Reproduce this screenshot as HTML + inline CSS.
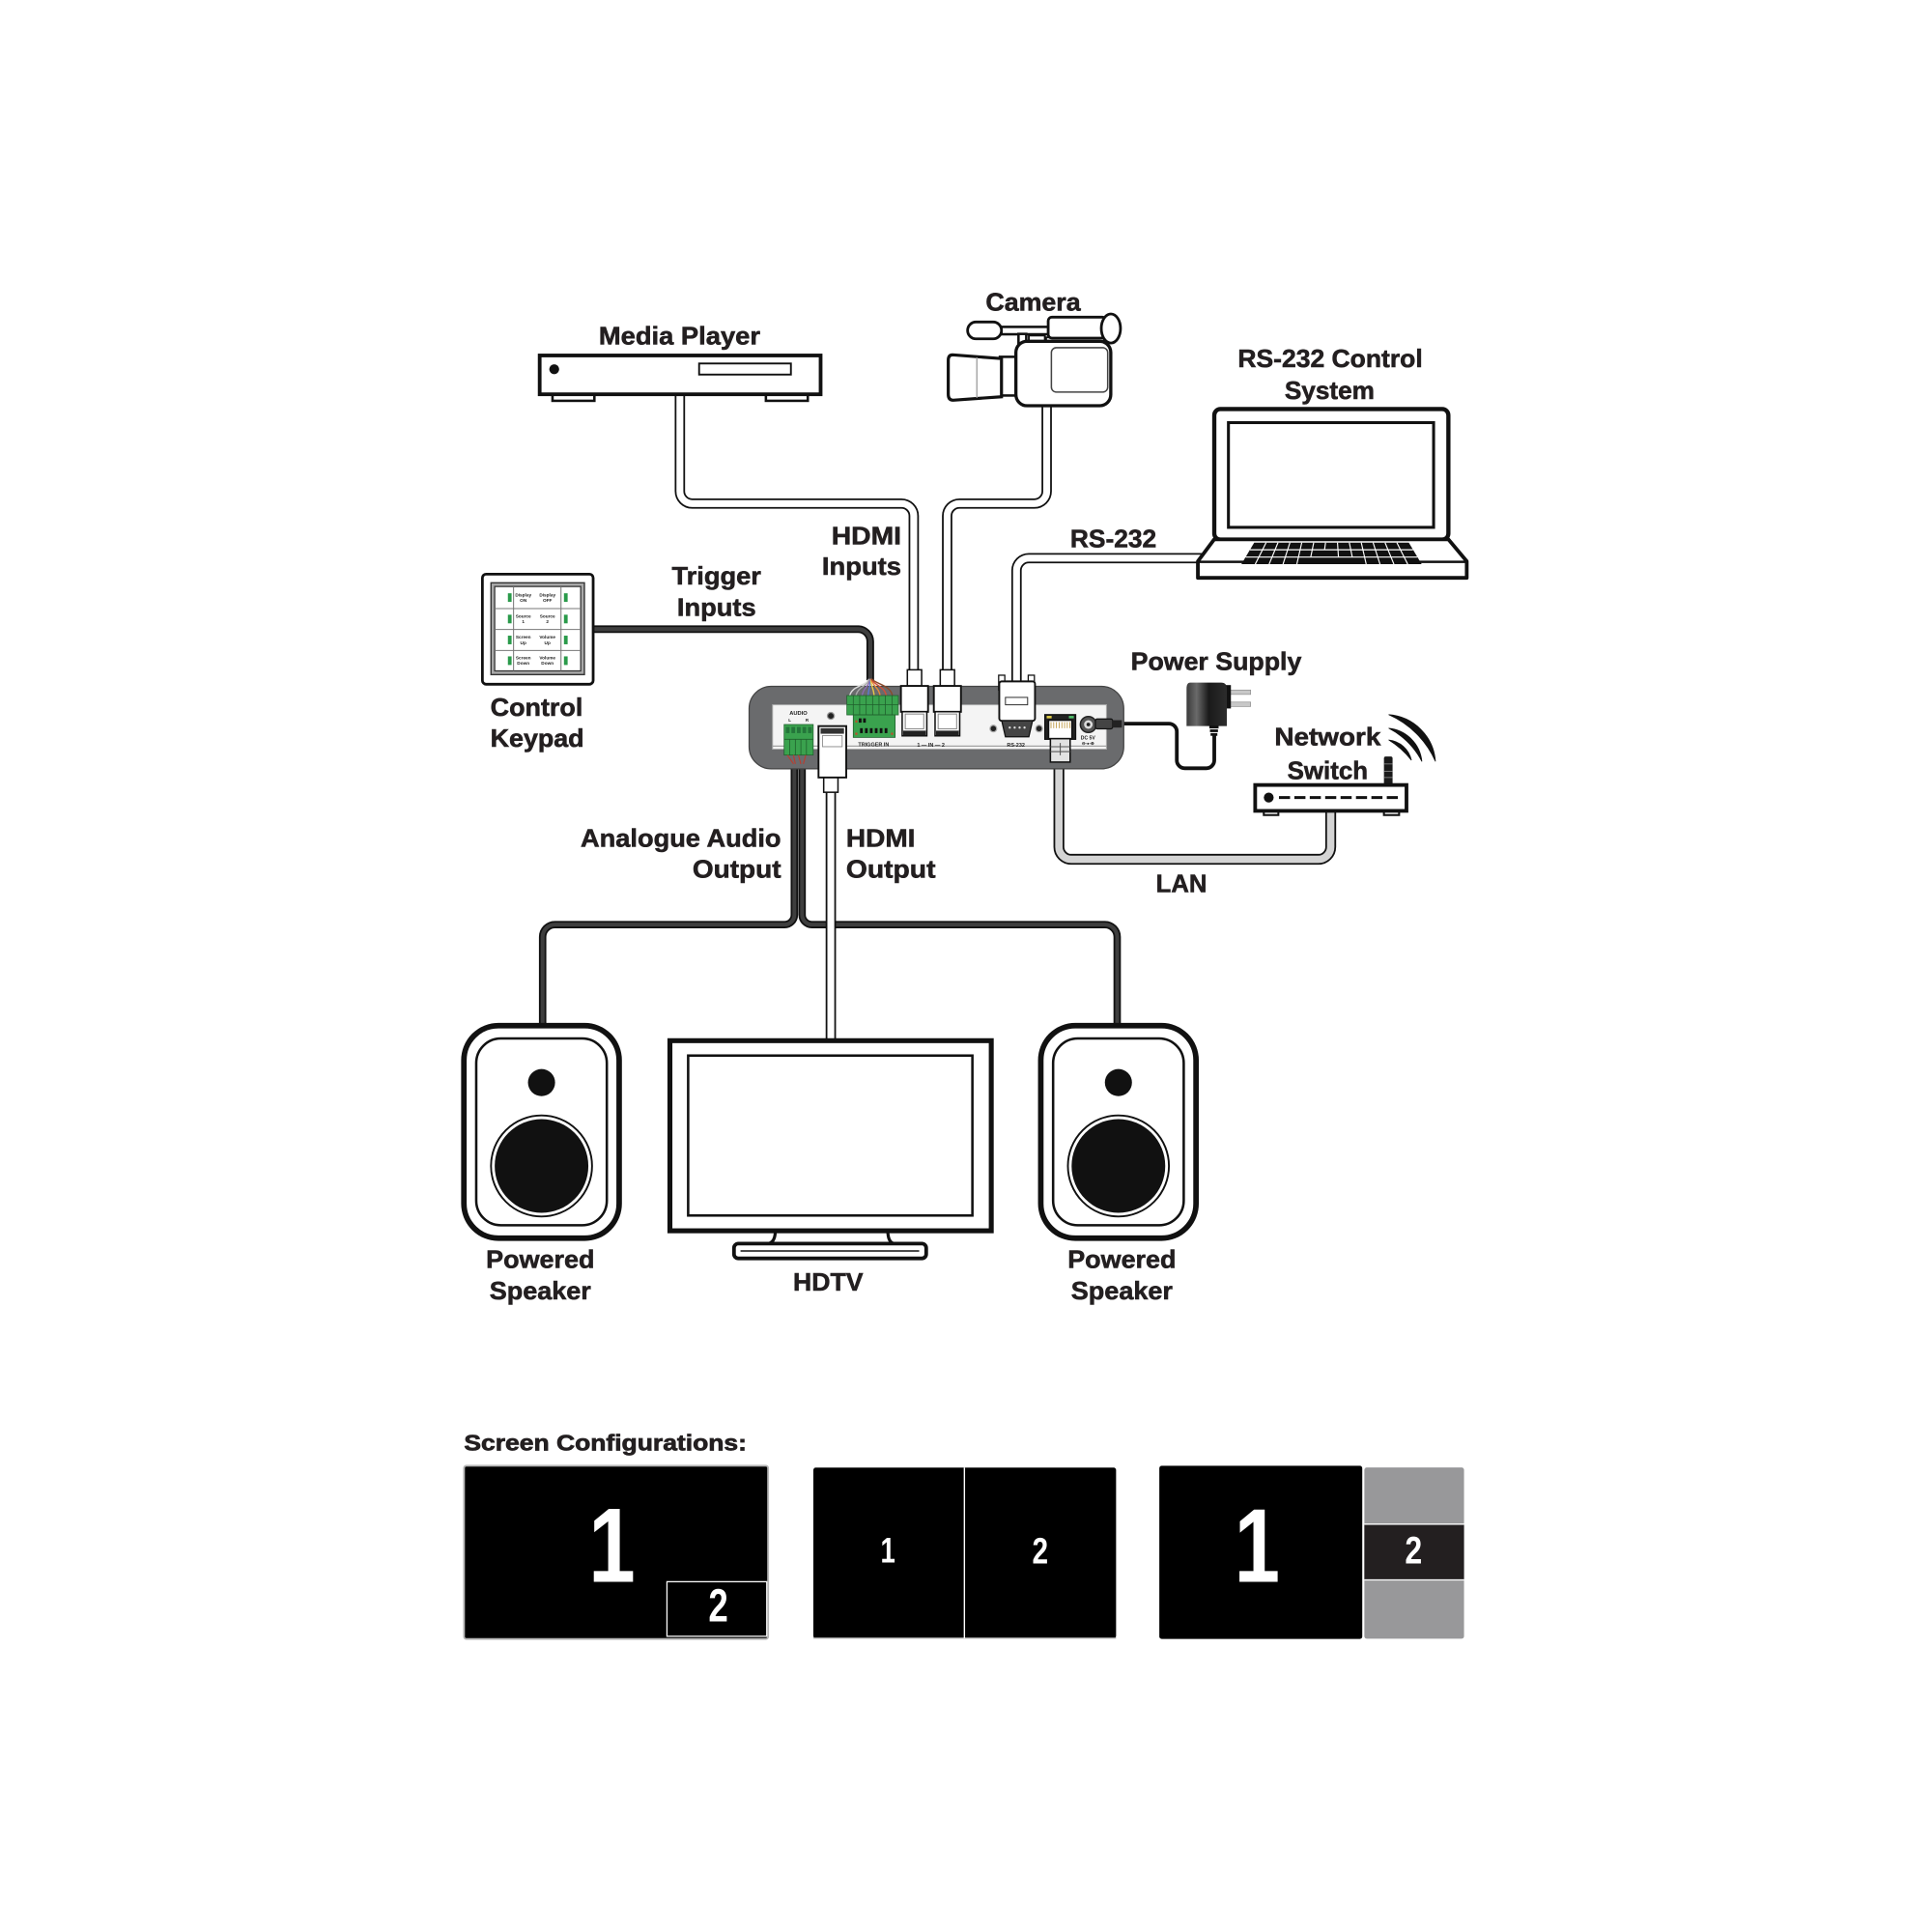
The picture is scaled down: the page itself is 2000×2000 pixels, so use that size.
<!DOCTYPE html>
<html>
<head>
<meta charset="utf-8">
<style>
  html,body{margin:0;padding:0;background:#fff;}
  svg{display:block;}
  .lbl{font-family:"Liberation Sans",Arial,sans-serif;font-weight:bold;font-size:20.5px;fill:#231f20;stroke:#231f20;stroke-width:0.45px;}
  .tiny{font-family:"Liberation Sans",Arial,sans-serif;font-weight:bold;fill:#222;}
  .dig{font-family:"Liberation Sans",Arial,sans-serif;font-weight:bold;fill:#fff;}
</style>
</head>
<body>
<svg width="2000" height="2000" viewBox="0 0 1568 1568" xmlns="http://www.w3.org/2000/svg">
  <rect x="0" y="0" width="1568" height="1568" fill="#fff"/>

  <!-- ============ CABLES ============ -->
  <g fill="none" stroke-linejoin="round">
    <path d="M551.8,320 V398.7 A10,10 0 0 0 561.8,408.7 H731.6 A10,10 0 0 1 741.6,418.7 V546" stroke="#111" stroke-width="8.4"/>
    <path d="M551.8,320 V398.7 A10,10 0 0 0 561.8,408.7 H731.6 A10,10 0 0 1 741.6,418.7 V546" stroke="#fff" stroke-width="5.6"/>
    <path d="M849.5,328 V398.7 A10,10 0 0 1 839.5,408.7 H778.7 A10,10 0 0 0 768.7,418.7 V546" stroke="#111" stroke-width="8.4"/>
    <path d="M849.5,328 V398.7 A10,10 0 0 1 839.5,408.7 H778.7 A10,10 0 0 0 768.7,418.7 V546" stroke="#fff" stroke-width="5.6"/>
    <path d="M978,453 H835 A10,10 0 0 0 825,463 V554" stroke="#111" stroke-width="8.4"/>
    <path d="M978,453 H835 A10,10 0 0 0 825,463 V554" stroke="#fff" stroke-width="5.6"/>
    <path d="M480,510.6 H696.3 A10,10 0 0 1 706.3,520.6 V552" stroke="#111" stroke-width="6.2"/>
    <path d="M480,510.6 H696.3 A10,10 0 0 1 706.3,520.6 V552" stroke="#3e3e3e" stroke-width="3.4"/>
    <path d="M644.7,612 V742.4 A8,8 0 0 1 636.7,750.4 H450.4 A10,10 0 0 0 440.4,760.4 V834" stroke="#111" stroke-width="6"/>
    <path d="M644.7,612 V742.4 A8,8 0 0 1 636.7,750.4 H450.4 A10,10 0 0 0 440.4,760.4 V834" stroke="#3e3e3e" stroke-width="3.2"/>
    <path d="M651,612 V742.4 A8,8 0 0 0 659,750.4 H896.7 A10,10 0 0 1 906.7,760.4 V834" stroke="#111" stroke-width="6"/>
    <path d="M651,612 V742.4 A8,8 0 0 0 659,750.4 H896.7 A10,10 0 0 1 906.7,760.4 V834" stroke="#3e3e3e" stroke-width="3.2"/>
    <path d="M674.3,640 V846" stroke="#111" stroke-width="8.4"/>
    <path d="M674.3,640 V846" stroke="#fff" stroke-width="5.6"/>
    <path d="M859.4,616 V687.4 A10,10 0 0 0 869.4,697.4 H1070 A10,10 0 0 0 1080,687.4 V657" stroke="#111" stroke-width="8.8"/>
    <path d="M859.4,616 V687.4 A10,10 0 0 0 869.4,697.4 H1070 A10,10 0 0 0 1080,687.4 V657" stroke="#d4d4d4" stroke-width="6"/>
    <path d="M905,587.3 H948.6 A6.5,6.5 0 0 1 955.1,593.8 V617 A6.5,6.5 0 0 0 961.6,623.5 H979 A6.5,6.5 0 0 0 985.5,617 V596" stroke="#111" stroke-width="3"/>
  </g>

  <!-- ============ MEDIA PLAYER ============ -->
  <rect x="448.4" y="318" width="34" height="7.3" fill="#fff" stroke="#111" stroke-width="2"/>
  <rect x="621.6" y="318" width="34" height="7.3" fill="#fff" stroke="#111" stroke-width="2"/>
  <rect x="438" y="288.5" width="228" height="31.5" fill="#fff" stroke="#111" stroke-width="3"/>
  <circle cx="449.8" cy="299.7" r="4" fill="#111"/>
  <rect x="567.4" y="295" width="74.5" height="9" fill="none" stroke="#111" stroke-width="1.5"/>

  <!-- ============ CAMERA ============ -->
  <g stroke="#111" fill="#fff">
    <rect x="812.8" y="265.3" width="38" height="6" stroke-width="2"/>
    <rect x="826.6" y="271" width="6.3" height="8" stroke-width="2"/>
    <rect x="835" y="272.3" width="13" height="5" stroke-width="1.5"/>
    <rect x="785.3" y="261.3" width="27.5" height="13.7" rx="6.8" stroke-width="2.2"/>
    <rect x="849" y="273.8" width="47" height="3.6" stroke-width="1.5"/>
    <rect x="850.7" y="257.4" width="47" height="17" rx="3" stroke-width="2.2"/>
    <ellipse cx="901.6" cy="266.6" rx="7.8" ry="11.8" stroke-width="2.2"/>
    <rect x="811.5" y="289.6" width="15" height="31.4" stroke-width="2"/>
    <path d="M773,288 L812.8,291 L812.8,322 L773.5,324.8 Q769.6,324.8 769.6,320 L769.6,292.5 Q769.6,288 773,288 Z" stroke-width="2.5"/>
    <rect x="824.5" y="277" width="77" height="52.3" rx="9" stroke-width="2.6"/>
    <rect x="853.3" y="282.2" width="45.7" height="36" rx="4" stroke="#444" stroke-width="1.2"/>
  </g>
  <line x1="792.8" y1="290" x2="792.8" y2="323" stroke="#999" stroke-width="1"/>

  <!-- ============ LAPTOP ============ -->
  <rect x="985.5" y="332" width="190" height="106" rx="5" fill="#fff" stroke="#111" stroke-width="3.4"/>
  <rect x="997" y="343" width="166.5" height="85" fill="#fff" stroke="#111" stroke-width="2.4"/>
  <path d="M985.5,437.7 L1175.5,437.7 L1190.4,455.5 L1190.4,469 L972.2,469 L972.2,455.5 Z" fill="#fff" stroke="#111" stroke-width="3" stroke-linejoin="round"/>
  <line x1="972.2" y1="456" x2="1190.4" y2="456" stroke="#111" stroke-width="2"/>
  <polygon points="1017.9,440.4 1143.4,440.4 1153.8,457.9 1007.5,457.9" fill="#111"/>
  <g stroke="#fff" stroke-width="0.9">
    <line x1="1027.55" y1="440.4" x2="1018.75" y2="457.9"/>
    <line x1="1037.2" y1="440.4" x2="1030.0" y2="457.9"/>
    <line x1="1046.9" y1="440.4" x2="1041.3" y2="457.9"/>
    <line x1="1056.5" y1="440.4" x2="1052.5" y2="457.9"/>
    <line x1="1066.2" y1="440.4" x2="1063.8" y2="452.1"/>
    <line x1="1075.8" y1="440.4" x2="1075.0" y2="446.2"/>
    <line x1="1085.5" y1="440.4" x2="1086.3" y2="452.1"/>
    <line x1="1095.1" y1="440.4" x2="1097.5" y2="452.1"/>
    <line x1="1104.8" y1="440.4" x2="1108.8" y2="457.9"/>
    <line x1="1114.4" y1="440.4" x2="1120.0" y2="457.9"/>
    <line x1="1124.1" y1="440.4" x2="1131.3" y2="457.9"/>
    <line x1="1133.7" y1="440.4" x2="1142.5" y2="457.9"/>
    <line x1="1014.5" y1="446.2" x2="1146.8" y2="446.2"/>
    <line x1="1010.9" y1="452.1" x2="1150.4" y2="452.1"/>
  </g>

  <!-- ============ CONTROL KEYPAD ============ -->
  <rect x="391.5" y="466" width="89.9" height="89.3" rx="3" fill="#fff" stroke="#111" stroke-width="2.2"/>
  <rect x="398.5" y="473" width="75.8" height="74.5" fill="#a9a9a9" stroke="#333" stroke-width="1.1"/>
  <rect x="401.5" y="476" width="69.8" height="68.5" fill="#fff" stroke="#333" stroke-width="1"/>
  <g stroke="#777" stroke-width="0.8">
    <line x1="416.8" y1="476" x2="416.8" y2="544.5"/>
    <line x1="455.3" y1="476" x2="455.3" y2="544.5"/>
    <line x1="401.5" y1="493.9" x2="471.3" y2="493.9"/>
    <line x1="401.5" y1="510.9" x2="471.3" y2="510.9"/>
    <line x1="401.5" y1="527.9" x2="471.3" y2="527.9"/>
  </g>
  <g fill="#2a9a4a">
    <rect x="412.2" y="481.5" width="3" height="7"/><rect x="457.7" y="481.5" width="3" height="7"/>
    <rect x="412.2" y="498.9" width="3" height="7"/><rect x="457.7" y="498.9" width="3" height="7"/>
    <rect x="412.2" y="515.9" width="3" height="7"/><rect x="457.7" y="515.9" width="3" height="7"/>
    <rect x="412.2" y="532.7" width="3" height="7"/><rect x="457.7" y="532.7" width="3" height="7"/>
  </g>
  <g class="tiny" font-size="3.7" text-anchor="middle">
    <text x="424.7" y="484">Display</text><text x="424.7" y="488.5">ON</text>
    <text x="444.3" y="484">Display</text><text x="444.3" y="488.5">OFF</text>
    <text x="424.7" y="501.3">Source</text><text x="424.7" y="505.8">1</text>
    <text x="444.3" y="501.3">Source</text><text x="444.3" y="505.8">2</text>
    <text x="424.7" y="518.3">Screen</text><text x="424.7" y="522.8">Up</text>
    <text x="444.3" y="518.3">Volume</text><text x="444.3" y="522.8">Up</text>
    <text x="424.7" y="535.1">Screen</text><text x="424.7" y="539.6">Down</text>
    <text x="444.3" y="535.1">Volume</text><text x="444.3" y="539.6">Down</text>
  </g>

  <!-- ============ CENTRAL DEVICE ============ -->
  <rect x="608" y="557" width="304" height="67" rx="18" fill="#6a6b6d" stroke="#444" stroke-width="1"/>
  <rect x="627" y="572" width="271" height="36" fill="#f4f4f4" stroke="#aaa" stroke-width="0.8"/>
  <line x1="627" y1="605.5" x2="898" y2="605.5" stroke="#999" stroke-width="0.8"/>

  <text class="tiny" x="648" y="580" font-size="4.5" text-anchor="middle">AUDIO</text>
  <text class="tiny" x="641" y="585.5" font-size="3.5" text-anchor="middle">L</text>
  <text class="tiny" x="655" y="585.5" font-size="3.5" text-anchor="middle">R</text>
  <rect x="636.4" y="588" width="23.6" height="24.8" fill="#3aa24e" stroke="#1f5f2c" stroke-width="0.6"/>
  <g fill="#24753a">
    <rect x="637.8" y="590" width="3" height="5"/><rect x="642.3" y="590" width="3" height="5"/>
    <rect x="646.8" y="590" width="3" height="5"/><rect x="651.3" y="590" width="3" height="5"/>
    <rect x="655.8" y="590" width="3" height="5"/>
  </g>
  <g stroke="#1f5f2c" stroke-width="0.6">
    <line x1="636.4" y1="600" x2="660" y2="600"/>
    <line x1="641" y1="600" x2="641" y2="612.8"/><line x1="645.5" y1="600" x2="645.5" y2="612.8"/>
    <line x1="650" y1="600" x2="650" y2="612.8"/><line x1="654.5" y1="600" x2="654.5" y2="612.8"/>
  </g>
  <g stroke="#c0392b" stroke-width="0.8" fill="none">
    <path d="M639,612.8 L644,620"/><path d="M644,612.8 L645.5,620"/>
    <path d="M648,612.8 L650,620"/><path d="M654,612.8 L652,620"/>
  </g>
  <circle cx="674.3" cy="581" r="2.8" fill="#222" stroke="#999" stroke-width="1"/>

  <rect x="668.5" y="630" width="11.6" height="13" fill="#fff" stroke="#111" stroke-width="1.2"/>
  <rect x="664.3" y="589.3" width="22.5" height="41.7" fill="#fff" stroke="#111" stroke-width="1.5"/>
  <rect x="666" y="591" width="19" height="4.5" fill="#333"/>
  <rect x="667.5" y="597" width="16" height="9" fill="none" stroke="#888" stroke-width="0.7"/>

  <g fill="none" stroke-width="1.1">
    <path d="M705,551 C704,557 690,556 689.5,566" stroke="#ddd"/>
    <path d="M705.5,551 C705,557 695,557 694.5,566" stroke="#aaa"/>
    <path d="M706,551 C706,557 700,558 699.5,566" stroke="#8c6bb1"/>
    <path d="M706.5,551 C706.5,558 704.5,559 704.5,566" stroke="#5a7bd0"/>
    <path d="M706.5,551 C707,558 709.5,559 709.5,566" stroke="#e6c84a"/>
    <path d="M707,551 C708,557 714,558 714.5,566" stroke="#e58a3a"/>
    <path d="M707,551 C709,556 719,557 719.5,566" stroke="#d0503a"/>
    <path d="M707.5,551 C710,555 724,556 724.5,566" stroke="#8a4a2a"/>
  </g>
  <rect x="687.3" y="564.5" width="41.8" height="15.7" fill="#3aa24e" stroke="#1f5f2c" stroke-width="0.6"/>
  <g stroke="#1f5f2c" stroke-width="0.6">
    <line x1="692.5" y1="564.5" x2="692.5" y2="580.2"/><line x1="697.7" y1="564.5" x2="697.7" y2="580.2"/>
    <line x1="703" y1="564.5" x2="703" y2="580.2"/><line x1="708.2" y1="564.5" x2="708.2" y2="580.2"/>
    <line x1="713.4" y1="564.5" x2="713.4" y2="580.2"/><line x1="718.6" y1="564.5" x2="718.6" y2="580.2"/>
    <line x1="723.9" y1="564.5" x2="723.9" y2="580.2"/>
    <line x1="687.3" y1="572" x2="729.1" y2="572"/>
  </g>
  <rect x="692.5" y="580.2" width="34" height="18.3" fill="#3aa24e" stroke="#1f5f2c" stroke-width="0.6"/>
  <g fill="#111">
    <rect x="697" y="583" width="2.2" height="3.5"/><rect x="700.5" y="583" width="2.2" height="3.5"/>
    <rect x="698" y="591" width="2.2" height="4"/><rect x="702" y="591" width="2.2" height="4"/>
    <rect x="706" y="591" width="2.2" height="4"/><rect x="710" y="591" width="2.2" height="4"/>
    <rect x="714" y="591" width="2.2" height="4"/><rect x="718" y="591" width="2.2" height="4"/>
  </g>
  <g fill="#b5542f">
    <circle cx="695" cy="585.5" r="1"/><circle cx="695" cy="595.5" r="1"/><circle cx="724" cy="595.5" r="1"/>
  </g>
  <text class="tiny" x="709" y="605.5" font-size="4.3" text-anchor="middle">TRIGGER IN</text>

  <g stroke="#111" fill="#fff">
    <rect x="736.4" y="543.6" width="11.6" height="13.1" stroke-width="1.2"/>
    <rect x="731.2" y="556.7" width="22" height="21" stroke-width="1.5"/>
    <rect x="732.2" y="577.6" width="20" height="19.6" stroke-width="1.2"/>
    <rect x="763.1" y="543.6" width="11.6" height="13.1" stroke-width="1.2"/>
    <rect x="757.9" y="556.7" width="22" height="21" stroke-width="1.5"/>
    <rect x="758.9" y="577.6" width="20" height="19.6" stroke-width="1.2"/>
  </g>
  <g fill="none" stroke="#888" stroke-width="0.8">
    <rect x="734.7" y="579.5" width="15" height="12"/>
    <rect x="761.4" y="579.5" width="15" height="12"/>
  </g>
  <rect x="733" y="593" width="18.4" height="4" fill="#222"/>
  <rect x="759.7" y="593" width="18.4" height="4" fill="#222"/>
  <text class="tiny" x="755.5" y="606" font-size="4.3" text-anchor="middle">1 — IN — 2</text>

  <rect x="810.5" y="548" width="5" height="12" fill="#fff" stroke="#111" stroke-width="1"/>
  <rect x="834.5" y="548" width="5" height="12" fill="#fff" stroke="#111" stroke-width="1"/>
  <rect x="811" y="553" width="29" height="32" rx="2" fill="#fff" stroke="#111" stroke-width="1.5"/>
  <rect x="816" y="566" width="18" height="6" fill="none" stroke="#333" stroke-width="0.8"/>
  <path d="M813,585 H838 L835,598 H816 Z" fill="#444" stroke="#111" stroke-width="1"/>
  <g fill="#ddd"><circle cx="819.5" cy="590.5" r="0.9"/><circle cx="823.5" cy="590.5" r="0.9"/><circle cx="827.5" cy="590.5" r="0.9"/><circle cx="831.5" cy="590.5" r="0.9"/></g>
  <circle cx="806.2" cy="591.3" r="2.7" fill="#222" stroke="#aaa" stroke-width="1"/>
  <circle cx="843.3" cy="591.3" r="2.7" fill="#222" stroke="#aaa" stroke-width="1"/>
  <text class="tiny" x="824.5" y="606" font-size="4.3" text-anchor="middle">RS-232</text>

  <rect x="848" y="580" width="25" height="20" fill="#222" stroke="#111" stroke-width="1"/>
  <rect x="849.5" y="581" width="4" height="2" fill="#e3d04a"/>
  <rect x="867.5" y="581" width="4" height="2" fill="#4fc06a"/>
  <rect x="851" y="584.5" width="19" height="15" fill="#fff" stroke="#111" stroke-width="1.2"/>
  <g stroke="#b58b2a" stroke-width="0.6">
    <line x1="853" y1="586" x2="853" y2="591"/><line x1="855.2" y1="586" x2="855.2" y2="591"/>
    <line x1="857.4" y1="586" x2="857.4" y2="591"/><line x1="859.6" y1="586" x2="859.6" y2="591"/>
    <line x1="861.8" y1="586" x2="861.8" y2="591"/><line x1="864" y1="586" x2="864" y2="591"/>
    <line x1="866.2" y1="586" x2="866.2" y2="591"/><line x1="868.4" y1="586" x2="868.4" y2="591"/>
  </g>
  <rect x="852.5" y="599.5" width="16" height="19" fill="#e2e2e2" stroke="#111" stroke-width="1.2"/>
  <line x1="852.5" y1="606" x2="868.5" y2="606" stroke="#555" stroke-width="0.8"/>
  <line x1="852.5" y1="610" x2="868.5" y2="610" stroke="#555" stroke-width="0.8"/>
  <line x1="860.5" y1="603" x2="860.5" y2="613" stroke="#555" stroke-width="0.8"/>

  <circle cx="883.3" cy="588" r="6.5" fill="#555" stroke="#222" stroke-width="1.2"/>
  <circle cx="883.3" cy="588" r="3.5" fill="#ddd"/>
  <circle cx="883.3" cy="588" r="1.5" fill="#222"/>
  <text class="tiny" x="883" y="600" font-size="4" text-anchor="middle">DC 5V</text>
  <text class="tiny" x="883" y="604.5" font-size="3.4" text-anchor="middle">⊖-●-⊕</text>
  <rect x="889" y="583.5" width="14" height="8" rx="1.5" fill="#444" stroke="#111" stroke-width="1"/>
  <rect x="902.5" y="584.5" width="8" height="6" fill="#222"/>

  <!-- ============ POWER SUPPLY ============ -->
  <defs>
    <linearGradient id="psu" x1="0" x2="1" y1="0" y2="0">
      <stop offset="0" stop-color="#3a3a3a"/>
      <stop offset="0.25" stop-color="#6a6a6a"/>
      <stop offset="0.55" stop-color="#1a1a1a"/>
      <stop offset="1" stop-color="#2c2c2c"/>
    </linearGradient>
  </defs>
  <rect x="995" y="560" width="20" height="3.6" fill="#c8c8c8" stroke="#888" stroke-width="0.5"/>
  <rect x="995" y="569.8" width="20" height="3.6" fill="#c8c8c8" stroke="#888" stroke-width="0.5"/>
  <rect x="992" y="556" width="7" height="19" fill="#111"/>
  <path d="M966,554 H991 Q995.7,554 995.7,559 V589.3 H963 V559 Q963,554 966,554 Z" fill="url(#psu)"/>
  <g fill="#111">
    <rect x="981.5" y="589" width="7.5" height="2.2"/>
    <rect x="982" y="592" width="6.5" height="2.2"/>
    <rect x="982.5" y="595" width="5.5" height="2.2"/>
  </g>

  <!-- ============ NETWORK SWITCH ============ -->
  <path d="M1127,580 A41,41 0 0 1 1165,618 A74,74 0 0 0 1127,580 Z" fill="#111" stroke="#111" stroke-width="0.6"/>
  <path d="M1127,591 A30,30 0 0 1 1154,618 A64,64 0 0 0 1127,591 Z" fill="#111" stroke="#111" stroke-width="0.6"/>
  <path d="M1127,600.5 A21,21 0 0 1 1145.5,617 A70,70 0 0 0 1127,600.5 Z" fill="#111" stroke="#111" stroke-width="0.6"/>
  <rect x="1123.2" y="614" width="7" height="23.5" rx="1.5" fill="#1a1a1a"/>
  <g stroke="#777" stroke-width="0.8">
    <line x1="1123.2" y1="620" x2="1130.2" y2="620"/>
    <line x1="1123.2" y1="626" x2="1130.2" y2="626"/>
    <line x1="1123.2" y1="631" x2="1130.2" y2="631"/>
  </g>
  <rect x="1025.7" y="656" width="11.8" height="5.5" fill="#fff" stroke="#111" stroke-width="1.6"/>
  <rect x="1123.2" y="656" width="12.3" height="5.5" fill="#fff" stroke="#111" stroke-width="1.6"/>
  <rect x="1018.7" y="637.1" width="122.8" height="21" fill="#fff" stroke="#111" stroke-width="3"/>
  <circle cx="1029.7" cy="647.3" r="4" fill="#111"/>
  <line x1="1038" y1="647.3" x2="1136" y2="647.3" stroke="#111" stroke-width="2.4" stroke-dasharray="9 3.5"/>

  <!-- ============ SPEAKERS ============ -->
  <g id="spk">
    <rect x="376.5" y="832.4" width="126" height="172.5" rx="28" fill="#fff" stroke="#111" stroke-width="4.5"/>
    <rect x="386.5" y="842.8" width="106" height="151.6" rx="20" fill="#fff" stroke="#111" stroke-width="2"/>
    <circle cx="439.5" cy="878.6" r="11" fill="#111"/>
    <circle cx="439.5" cy="946.3" r="41" fill="#fff" stroke="#111" stroke-width="1.5"/>
    <circle cx="439.5" cy="946.3" r="38" fill="#111"/>
  </g>
  <use href="#spk" transform="translate(468.2,0)"/>

  <!-- ============ HDTV ============ -->
  <path d="M629.3,998 C629.3,1008 626,1010 616.8,1010.5 L732.5,1010.5 C723,1010 720.5,1008 720.5,998 Z" fill="#fff" stroke="#111" stroke-width="2.5" stroke-linejoin="round"/>
  <rect x="595.7" y="1009.3" width="156" height="12" rx="3.5" fill="#fff" stroke="#111" stroke-width="3"/>
  <line x1="601" y1="1015.3" x2="746" y2="1015.3" stroke="#111" stroke-width="1.2"/>
  <rect x="543.7" y="844.6" width="260.8" height="154.3" fill="#fff" stroke="#111" stroke-width="4"/>
  <rect x="558.5" y="856.7" width="230.7" height="129.8" fill="none" stroke="#111" stroke-width="2"/>

  <!-- ============ LABELS ============ -->
  <g class="lbl">
    <text x="486" y="279.6" textLength="131" lengthAdjust="spacingAndGlyphs">Media Player</text>
    <text x="800" y="252.2" textLength="77" lengthAdjust="spacingAndGlyphs">Camera</text>
    <text x="1004.6" y="297.9" textLength="150" lengthAdjust="spacingAndGlyphs">RS-232 Control</text>
    <text x="1042.6" y="324" textLength="73" lengthAdjust="spacingAndGlyphs">System</text>
    <text x="674.8" y="441.7" textLength="56.7" lengthAdjust="spacingAndGlyphs">HDMI</text>
    <text x="667.1" y="466.5" textLength="64.4" lengthAdjust="spacingAndGlyphs">Inputs</text>
    <text x="545.3" y="474.3" textLength="72.4" lengthAdjust="spacingAndGlyphs">Trigger</text>
    <text x="549.5" y="500" textLength="64.1" lengthAdjust="spacingAndGlyphs">Inputs</text>
    <text x="868.6" y="444.3" textLength="70" lengthAdjust="spacingAndGlyphs">RS-232</text>
    <text x="917.8" y="543.6" textLength="138.5" lengthAdjust="spacingAndGlyphs">Power Supply</text>
    <text x="398" y="581" textLength="75" lengthAdjust="spacingAndGlyphs">Control</text>
    <text x="398" y="606" textLength="76" lengthAdjust="spacingAndGlyphs">Keypad</text>
    <text x="1034.4" y="605" textLength="86.2" lengthAdjust="spacingAndGlyphs">Network</text>
    <text x="1044.8" y="632.4" textLength="65.4" lengthAdjust="spacingAndGlyphs">Switch</text>
    <text x="471.2" y="687.3" textLength="162.7" lengthAdjust="spacingAndGlyphs">Analogue Audio</text>
    <text x="562" y="712.1" textLength="71.9" lengthAdjust="spacingAndGlyphs">Output</text>
    <text x="686.7" y="687.3" textLength="56.1" lengthAdjust="spacingAndGlyphs">HDMI</text>
    <text x="686.7" y="712.1" textLength="72.6" lengthAdjust="spacingAndGlyphs">Output</text>
    <text x="938.2" y="723.9" textLength="41.3" lengthAdjust="spacingAndGlyphs">LAN</text>
    <text x="394.5" y="1029.1" textLength="88" lengthAdjust="spacingAndGlyphs">Powered</text>
    <text x="397.3" y="1054.5" textLength="82.3" lengthAdjust="spacingAndGlyphs">Speaker</text>
    <text x="866.5" y="1029.1" textLength="88" lengthAdjust="spacingAndGlyphs">Powered</text>
    <text x="869.3" y="1054.5" textLength="82.4" lengthAdjust="spacingAndGlyphs">Speaker</text>
    <text x="643.7" y="1047.4" textLength="56.8" lengthAdjust="spacingAndGlyphs">HDTV</text>
    <text x="376.6" y="1177.3" textLength="229.4" lengthAdjust="spacingAndGlyphs" style="font-size:18px;stroke-width:0.55px">Screen Configurations:</text>
  </g>

  <!-- ============ SCREEN CONFIGS ============ -->
  <rect x="376.6" y="1189.6" width="246.8" height="140.6" rx="2" fill="#000" stroke="#b5b5b5" stroke-width="1.5"/>
  <rect x="541.3" y="1283.7" width="81" height="44.3" fill="#000" stroke="#fff" stroke-width="1"/>
  <text class="dig" x="496.7" y="1283.7" font-size="86" text-anchor="middle" textLength="38" lengthAdjust="spacingAndGlyphs">1</text>
  <text class="dig" x="583" y="1315.8" font-size="37.5" text-anchor="middle" textLength="16" lengthAdjust="spacingAndGlyphs">2</text>

  <rect x="660.1" y="1191.1" width="245.7" height="138.6" rx="2" fill="#000"/>
  <line x1="660.1" y1="1329.5" x2="905.8" y2="1329.5" stroke="#aaa" stroke-width="1"/>
  <line x1="782.7" y1="1191.1" x2="782.7" y2="1329.7" stroke="#fff" stroke-width="1.1"/>
  <text class="dig" x="720.6" y="1268" font-size="29" text-anchor="middle" textLength="12" lengthAdjust="spacingAndGlyphs">1</text>
  <text class="dig" x="844.2" y="1268.8" font-size="30" text-anchor="middle" textLength="13" lengthAdjust="spacingAndGlyphs">2</text>

  <rect x="940.9" y="1189.6" width="164.7" height="140.6" rx="2" fill="#000"/>
  <rect x="1107.3" y="1191" width="80.9" height="139" rx="2" fill="#98989a"/>
  <rect x="1107.3" y="1237.4" width="80.9" height="44.4" fill="#231f20"/>
  <line x1="1107.3" y1="1237" x2="1188.2" y2="1237" stroke="#fff" stroke-width="1"/>
  <line x1="1107.3" y1="1282.2" x2="1188.2" y2="1282.2" stroke="#fff" stroke-width="1"/>
  <text class="dig" x="1020.3" y="1283.7" font-size="85" text-anchor="middle" textLength="37" lengthAdjust="spacingAndGlyphs">1</text>
  <text class="dig" x="1147.2" y="1268.8" font-size="31" text-anchor="middle" textLength="14" lengthAdjust="spacingAndGlyphs">2</text>
</svg>
</body>
</html>
